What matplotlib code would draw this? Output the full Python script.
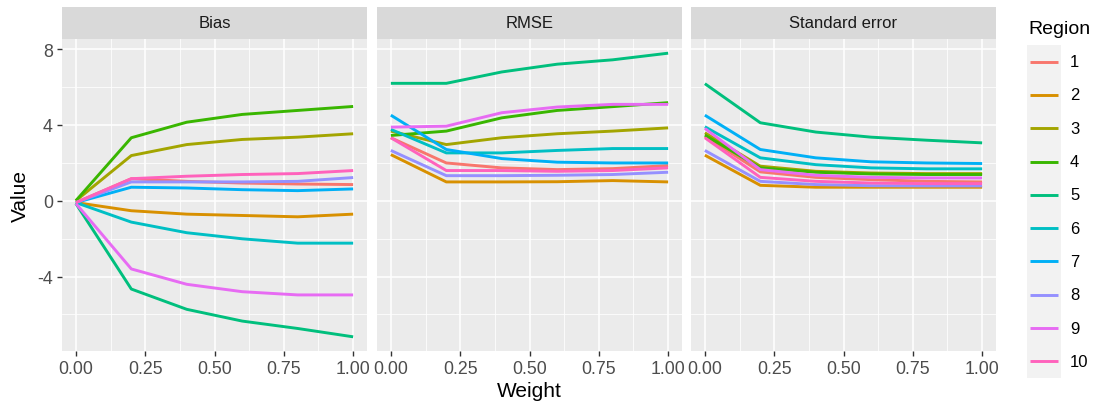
import matplotlib.pyplot as plt
import numpy as np

plt.rcParams['font.family'] = ['Liberation Sans', 'DejaVu Sans']
plt.rcParams['axes.unicode_minus'] = False

weight = [0.0, 0.2, 0.4, 0.6, 0.8, 1.0]
regions = ['1', '2', '3', '4', '5', '6', '7', '8', '9', '10']
colors = ['#F8766D', '#D89000', '#A3A500', '#39B600', '#00BF7D',
          '#00BFC4', '#00B0F6', '#9590FF', '#E76BF3', '#FF62BC']
panels = ['Bias', 'RMSE', 'Standard error']

# one row per region
bias = [
    [-0.10, 1.16, 1.02, 0.93, 0.88, 0.85],
    [-0.10, -0.53, -0.71, -0.78, -0.85, -0.71],
    [0.00, 2.38, 2.96, 3.23, 3.35, 3.53],
    [0.00, 3.32, 4.14, 4.55, 4.76, 4.97],
    [-0.15, -4.66, -5.73, -6.35, -6.74, -7.18],
    [-0.10, -1.13, -1.69, -2.01, -2.24, -2.24],
    [-0.10, 0.71, 0.67, 0.58, 0.53, 0.62],
    [-0.10, 0.99, 0.99, 0.99, 1.02, 1.22],
    [-0.15, -3.60, -4.41, -4.80, -4.97, -4.97],
    [-0.10, 1.16, 1.29, 1.38, 1.43, 1.59],
]
rmse = [
    [3.32, 1.99, 1.73, 1.64, 1.69, 1.85],
    [2.43, 0.99, 0.99, 1.00, 1.06, 0.99],
    [3.67, 2.96, 3.32, 3.53, 3.67, 3.84],
    [3.44, 3.67, 4.37, 4.76, 4.96, 5.17],
    [6.19, 6.19, 6.79, 7.20, 7.43, 7.78],
    [3.76, 2.52, 2.52, 2.65, 2.75, 2.75],
    [4.51, 2.70, 2.22, 2.03, 1.99, 1.99],
    [2.65, 1.32, 1.32, 1.34, 1.38, 1.50],
    [3.88, 3.93, 4.64, 4.94, 5.08, 5.08],
    [3.32, 1.59, 1.59, 1.55, 1.59, 1.73],
]
std_err = [
    [3.40, 1.52, 1.23, 1.11, 1.02, 0.99],
    [2.40, 0.81, 0.71, 0.71, 0.71, 0.71],
    [3.58, 1.82, 1.55, 1.46, 1.43, 1.43],
    [3.46, 1.73, 1.50, 1.41, 1.38, 1.38],
    [6.17, 4.11, 3.62, 3.35, 3.19, 3.05],
    [3.90, 2.26, 1.90, 1.73, 1.68, 1.68],
    [4.51, 2.70, 2.26, 2.05, 1.99, 1.96],
    [2.65, 1.02, 0.85, 0.79, 0.78, 0.78],
    [3.81, 1.64, 1.34, 1.23, 1.20, 1.20],
    [3.32, 1.23, 1.02, 0.93, 0.90, 0.90],
]
data = [bias, rmse, std_err]

W, H = 1098, 406
fig = plt.figure(figsize=(W / 100, H / 100), dpi=100)


def box(x0, y0, x1, y1):
    # pixel box (top-left origin) -> figure fraction rect
    return [x0 / W, 1 - y1 / H, (x1 - x0) / W, (y1 - y0) / H]


allv = np.array(data).ravel()
pad = 0.05 * (allv.max() - allv.min())
ylim = (allv.min() - pad, allv.max() + pad)

lefts = [62, 377, 691]
pw = 305
for k, name in enumerate(panels):
    x0 = lefts[k]
    ax = fig.add_axes(box(x0, 40, x0 + pw, 352))
    ax.set_facecolor('#EBEBEB')
    for s in ax.spines.values():
        s.set_visible(False)
    ax.set_xlim(-0.05, 1.05)
    ax.set_ylim(*ylim)
    ax.set_xticks([0, 0.25, 0.5, 0.75, 1.0])
    ax.set_xticklabels(['0.00', '0.25', '0.50', '0.75', '1.00'])
    ax.set_xticks([0.125, 0.375, 0.625, 0.875], minor=True)
    ax.set_yticks([-4, 0, 4, 8])
    ax.set_yticks([-6, -2, 2, 6], minor=True)
    ax.grid(which='major', color='white', linewidth=1.1)
    ax.grid(which='minor', color='white', linewidth=0.55)
    ax.set_axisbelow(True)
    ax.tick_params(which='major', length=3.5, width=1.0, color='#333333',
                   labelcolor='#4D4D4D', labelsize=12.8, pad=3)
    ax.tick_params(which='minor', length=0)
    if k > 0:
        ax.tick_params(axis='y', which='major', length=0, labelleft=False)

    for i, reg in enumerate(regions):
        ax.plot(weight, data[k][i], color=colors[i], linewidth=2.1,
                solid_capstyle='butt')

    # strip
    sax = fig.add_axes(box(x0, 8, x0 + pw, 40))
    sax.set_facecolor('#D9D9D9')
    sax.set_xticks([])
    sax.set_yticks([])
    for s in sax.spines.values():
        s.set_visible(False)
    sax.text(0.5, 0.5, name, ha='center', va='center', fontsize=12,
             color='#1A1A1A', transform=sax.transAxes)

fig.text(20 / W, 1 - 196 / H, 'Value', rotation=90, ha='center', va='center',
         fontsize=15, color='black')
fig.text(529 / W, 1 - 392 / H, 'Weight', ha='center', va='center',
         fontsize=15, color='black')

# legend
lax = fig.add_axes([0, 0, 1, 1], facecolor='none')
lax.set_xlim(0, W)
lax.set_ylim(H, 0)
lax.axis('off')
lax.text(1028, 30, 'Region', ha='left', va='center', fontsize=14, color='black')
key_top = 46
key_h = 33.3
lax.add_patch(plt.Rectangle((1027, key_top), 34, key_h * len(regions),
                            facecolor='#F2F2F2', edgecolor='none'))
for i, reg in enumerate(regions):
    yc = key_top + key_h * (i + 0.5)
    lax.plot([1030, 1058], [yc, yc], color=colors[i], linewidth=2.1,
             solid_capstyle='butt')
    lax.text(1070, yc, reg, ha='left', va='center', fontsize=12, color='black')

fig.savefig('out.png', dpi=100)
